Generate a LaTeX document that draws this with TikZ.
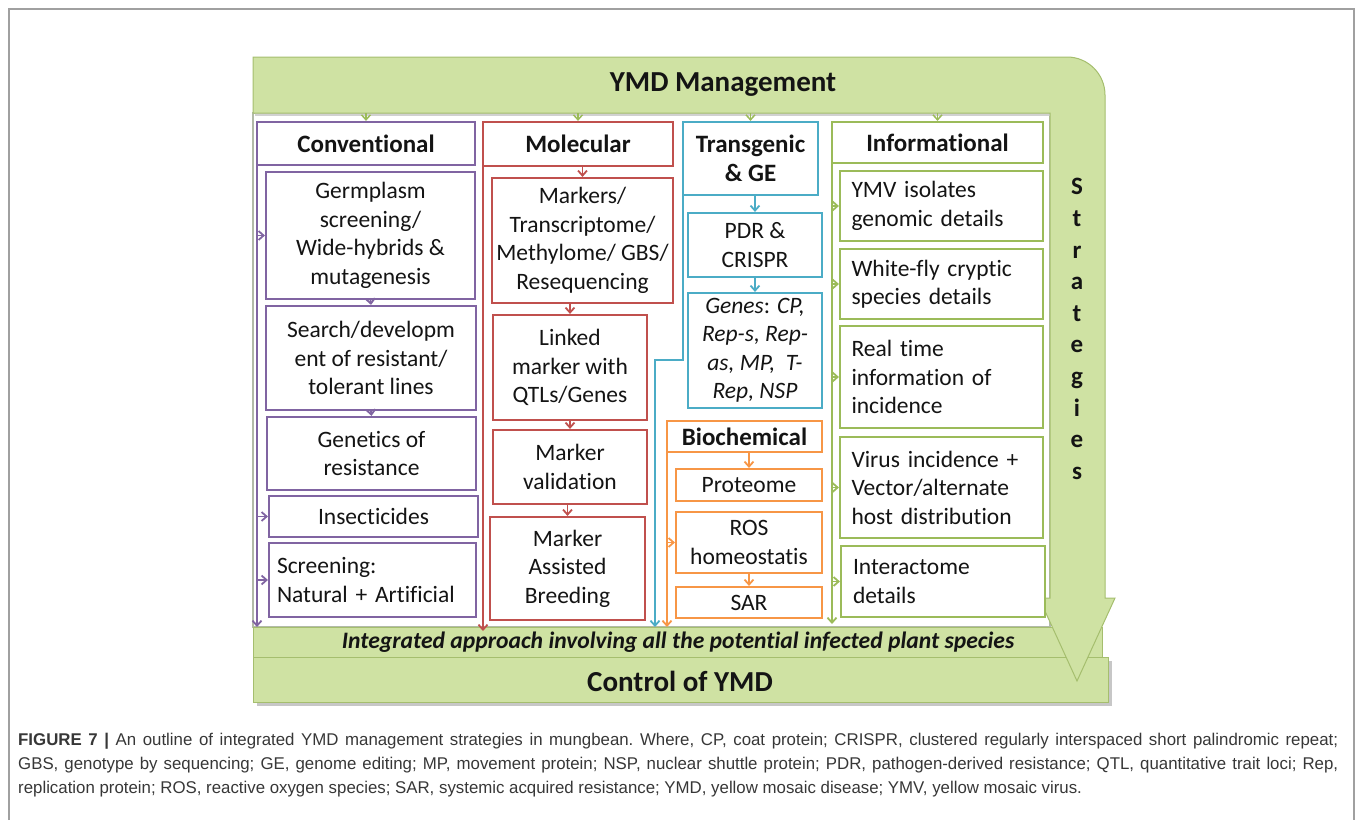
\documentclass[tikz,border=0pt]{standalone}
\usepackage{fontspec}
\setmainfont{Carlito}[Ligatures=NoCommon]
\newfontfamily\capfont[FakeStretch=0.99]{Liberation Sans}
\usetikzlibrary{arrows.meta}
\definecolor{cpur}{RGB}{128,100,162}
\definecolor{cred}{RGB}{192,80,77}
\definecolor{cblu}{RGB}{75,172,198}
\definecolor{corg}{RGB}{247,150,70}
\definecolor{cgrn}{RGB}{155,187,89}
\definecolor{gfill}{RGB}{207,226,163}
\definecolor{gedge}{RGB}{165,190,110}
\definecolor{txtc}{RGB}{20,20,20}
\definecolor{capc}{RGB}{55,55,55}
\definecolor{framec}{RGB}{160,160,160}
\definecolor{panelc}{RGB}{178,186,168}
\newcommand\bxf{\fontsize{23.5}{28.5}\selectfont}
\newcommand\hdf{\fontsize{25}{29}\selectfont\bfseries}
\newcommand\bigf{\fontsize{29}{34}\selectfont\bfseries}
\newcommand\capf{\capfont\fontsize{17}{24}\selectfont\frenchspacing}
\begin{document}
\begin{tikzpicture}[x=1pt,y=-1pt,
  bx/.style={draw=#1, line width=2.2pt, fill=white, inner sep=0pt, align=center, font=\bxf, text=txtc},
  hd/.style={bx=#1, font=\hdf},
  lbx/.style={bx=#1, align=left},
  sz/.style 2 args={minimum width=#1pt, minimum height=#2pt},
  ar/.style={draw=#1, line width=1.8pt, -{Straight Barb[length=5pt,width=9pt]}},
  gbar/.style={fill=gfill, draw=gedge, line width=1pt},
]
\useasboundingbox (0,0) rectangle (1355,820);
\draw[framec, line width=1.2pt] (9,820) -- (9,9) -- (1354,9) -- (1354,820);

% panel and bars
\filldraw[fill=white, draw=panelc, line width=2pt] (253,113) rectangle (1050,627);
\fill[black!22] (257,661) rectangle (1112,706);
\filldraw[gbar] (253,627) rectangle (1102,657);
\filldraw[gbar] (253,657) rectangle (1108,702);
\fill[black!18] (255,60) -- (1060,60) -- (1060,116) -- (255,116) -- cycle;
\filldraw[gbar] (253,57) -- (1060,57) [rounded corners=38pt] -- (1105,57) -- (1105,140) [sharp corners] -- (1105,598) -- (1115,598) -- (1077,681) -- (1039,598) -- (1050,598) -- (1050,113) -- (253,113) -- cycle;

\node[font=\bigf, text=txtc] (title) at (723,85) {YMD Management};
\node[font=\bigf, text=txtc] (ctrl) at (680,681) {Control of YMD};
\node[font=\fontsize{23.6}{27}\selectfont\bfseries\itshape, text=txtc] (integ) at (678,642) {Integrated approach involving all the potential infected plant species};
\node[font=\fontsize{25}{31.6}\selectfont\bfseries, align=center, text=txtc] (strat) at (1077,329) {S\\t\\r\\a\\t\\e\\g\\i\\e\\s};
\coordinate (tbar) at (723,113);

% Conventional
\node[hd=cpur, sz={218}{43}] (conv) at (366,143.5) {Conventional};
\node[bx=cpur, sz={209}{127}] (germ) at (370.5,235.5) {Germplasm\\screening/\\Wide-hybrids \&\\mutagenesis};
\node[bx=cpur, sz={210}{104}] (search) at (371,358) {Search/developm\\ent of resistant/\\tolerant lines};
\node[bx=cpur, sz={209}{73}] (genet) at (371.5,453.5) {Genetics of\\resistance};
\node[bx=cpur, sz={209}{41}] (insect) at (373.5,516.5) {Insecticides};
\node[lbx=cpur, sz={207}{74}, text width=191pt] (screen) at (372.5,580) {Screening:\\Natural + Artificial};
\coordinate (cvtop) at (257,165);
\coordinate (cvbot) at (257,627);
\draw[ar=cpur] (cvtop) -- (cvbot);
\draw[ar=cpur] (cvtop |- germ.west) -- (germ.west);
\draw[ar=cpur] (cvtop |- insect.west) -- (insect.west);
\draw[ar=cpur] (cvtop |- screen.west) -- (screen.west);
\draw[ar=cpur] (germ.south) -- (search.north);
\draw[ar=cpur] (search.south) -- (genet.north);

% Molecular
\node[hd=cred, sz={190}{44}] (mol) at (578,144) {Molecular};
\node[bx=cred, sz={181}{125}] (mark) at (582.5,240.5) {Markers/\\Transcriptome/\\Methylome/ GBS/\\Resequencing};
\node[bx=cred, sz={154}{105}] (linked) at (570,367.5) {Linked\\marker with\\QTLs/Genes};
\node[bx=cred, sz={154}{74}] (valid) at (570,467) {Marker\\validation};
\node[bx=cred, sz={155}{103}] (mab) at (567.5,568.5) {Marker\\Assisted\\Breeding};
\coordinate (mtop) at (483,166);
\coordinate (mbot) at (483,631);
\draw[ar=cred] (mtop) -- (mbot);
\draw[ar=cred] (mol.south -| mark.north) -- (mark.north);
\draw[ar=cred] (mark.south -| linked.north) -- (linked.north);
\draw[ar=cred] (linked.south) -- (valid.north);
\draw[ar=cred] (valid.south -| mab.north) -- (mab.north);

% Transgenic
\node[hd=cblu, sz={135}{73}] (trans) at (750.5,158.5) {Transgenic\\\& GE};
\node[bx=cblu, sz={134}{64}] (pdr) at (755,245) {PDR \&\\CRISPR};
\node[bx=cblu, sz={134}{115}] (genes) at (755,350.5) {\textit{Genes}: \textit{CP,}\\\textit{Rep-s, Rep-}\\\textit{as, MP,\ \ T-}\\\textit{Rep, NSP}};
\coordinate (bl0) at (683,195);
\coordinate (bl1) at (683,360);
\coordinate (bl2) at (655,360);
\coordinate (bl3) at (655,627);
\draw[ar=cblu] (bl0) -- (bl1) -- (bl2) -- (bl3);
\draw[ar=cblu] (trans.south -| pdr.north) -- (pdr.north);
\draw[ar=cblu] (pdr.south) -- (genes.north);

% Biochemical
\node[hd=corg, sz={155}{31}] (bio) at (744.5,436.5) {Biochemical};
\node[bx=corg, sz={146}{32}] (prot) at (749,485) {Proteome};
\node[bx=corg, sz={146}{61}] (ros) at (749,542.5) {ROS\\homeostatis};
\node[bx=corg, sz={146}{31}] (sar) at (749,602.5) {SAR};
\coordinate (otop) at (667,452);
\coordinate (obot) at (667,627);
\draw[ar=corg] (otop) -- (obot);
\draw[ar=corg] (otop |- ros.west) -- (ros.west);
\draw[ar=corg] (bio.south -| prot.north) -- (prot.north);
\draw[ar=corg] (ros.south) -- (sar.north);

% Informational
\node[hd=cgrn, sz={211}{41}] (info) at (937.5,142.5) {Informational};
\node[lbx=cgrn, sz={203}{70}, text width=180pt] (ymv) at (941.5,206) {YMV isolates\\genomic details};
\node[lbx=cgrn, sz={203}{70}, text width=180pt] (wf) at (941.5,284) {White-fly cryptic\\species details};
\node[lbx=cgrn, sz={203}{102}, text width=180pt] (rt) at (941.5,377) {Real time\\information of\\incidence};
\node[lbx=cgrn, sz={203}{101}, text width=180pt] (vir) at (941.5,487.5) {Virus incidence +\\Vector/alternate\\host distribution};
\node[lbx=cgrn, sz={204}{71}, text width=180pt] (inter) at (943,581.5) {Interactome\\details};
\coordinate (gtop) at (832,163);
\coordinate (gbot) at (832,624);
\draw[ar=cgrn] (gtop) -- (gbot);
\foreach \b in {ymv,wf,rt,vir,inter} {\draw[ar=cgrn] (gtop |- \b.west) -- (\b.west);}

% top arrows
\foreach \h in {conv,mol,trans,info} {\draw[ar=cgrn, line width=1.5pt] (\h.north |- tbar) -- (\h.north);}

% caption
\node[anchor=base west, inner sep=0pt, text=capc, font=\capf] (cap1) at (18,745) {\makebox[1320pt][s]{\textbf{FIGURE 7 |} An outline of integrated YMD management strategies in mungbean. Where, CP, coat protein; CRISPR, clustered regularly interspaced short palindromic repeat;}};
\node[anchor=base west, inner sep=0pt, text=capc, font=\capf] (cap2) at (18,769) {\makebox[1320pt][s]{GBS, genotype by sequencing; GE, genome editing; MP, movement protein; NSP, nuclear shuttle protein; PDR, pathogen-derived resistance; QTL, quantitative trait loci; Rep,}};
\node[anchor=base west, inner sep=0pt, text=capc, font=\capf] (cap3) at (18,793) {replication protein; ROS, reactive oxygen species; SAR, systemic acquired resistance; YMD, yellow mosaic disease; YMV, yellow mosaic virus.};
\end{tikzpicture}
\end{document}
